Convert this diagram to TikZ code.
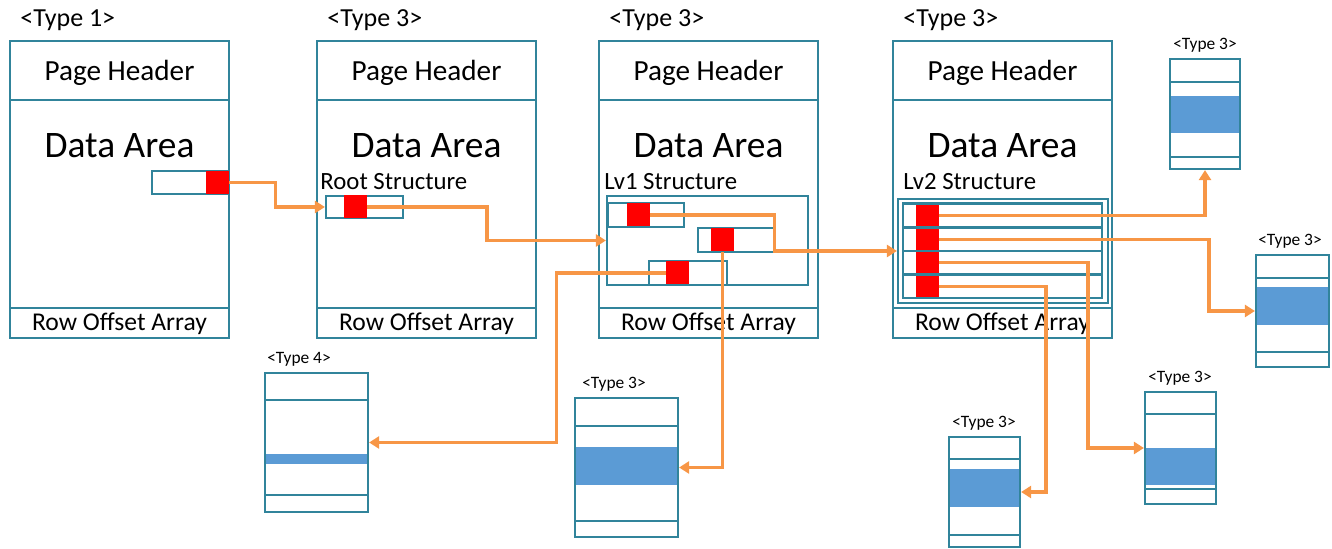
\documentclass[tikz,border=0pt]{standalone}
\usepackage{fontspec}
\setmainfont{Carlito}
\usetikzlibrary{arrows.meta,fit}
\definecolor{edge}{HTML}{31849B}
\definecolor{lnk}{HTML}{F79646}
\definecolor{band}{HTML}{5B9BD5}
\begin{document}
\begin{tikzpicture}[x=0.5pt,y=-0.5pt,
    pg/.style={draw=edge,line width=1.1pt},
    rec/.style={draw=edge,line width=1.1pt,fill=white,inner sep=0pt},
    row/.style={draw=edge,line width=1.1pt,inner sep=0pt},
    cell/.style={fill=red,minimum width=11.5pt,minimum height=11.5pt,inner sep=0pt},
    link/.style={draw=lnk,line width=1.6pt,-{Triangle[length=5pt,width=6pt]}},
    tylbl/.style={font=\fontsize{13}{15}\selectfont},
    hdr/.style={font=\fontsize{14.6}{17}\selectfont},
    big/.style={font=\fontsize{18.7}{22}\selectfont},
    foot/.style={font=\fontsize{12.8}{15}\selectfont},
    strc/.style={font=\fontsize{12.4}{14}\selectfont,anchor=west,inner sep=0pt},
    smlbl/.style={font=\fontsize{8.7}{10}\selectfont}]
    \useasboundingbox (0,0) rectangle (1332,549);

    % big pages
    \foreach \x/\t [count=\i] in {10/1,317/3,599/3,893/3} {
        \draw[pg] (\x,41) rectangle ++(219,297);
        \draw[pg] (\x,100) -- ++(219,0);
        \draw[pg] (\x,308) -- ++(219,0);
        \node[tylbl,anchor=west,inner sep=0pt] (ty\i) at (\x+10,20) {<Type \t>};
        \node[hdr] (ph\i) at (\x+109.5,73) {Page Header};
        \node[big] (da\i) at (\x+109.5,146) {Data Area};
        \node[foot] (ro\i) at (\x+109.5,324) {Row Offset Array};
    }

    % small pages
    \foreach \n/\xa/\ya/\xb/\yb/\hd/\ba/\bb/\ft/\ty/\lx in {
        sA/1170/59/1240/169/82/96/133/157/3/1205,
        sB/1256/255/1329/367/278/287/325/352/3/1290,
        sC/265/373/368/512/400/454/464/495/4/299,
        sD/575/398/678/537/426/447/485/521/3/614,
        sE/949/437/1020/547/459/469/507/535/3/984,
        sF/1145/392/1216/504/414/448/485/489/3/1180} {
        \fill[band] (\xa,\ba) rectangle (\xb,\bb);
        \node[row,fit={(\xa,\ya) (\xb,\yb)}] (\n) {};
        \draw[pg] (\xa,\hd) -- (\xb,\hd);
        \draw[pg] (\xa,\ft) -- (\xb,\ft);
        \node[smlbl] (\n l) at (\lx,\ya-14) {<Type \ty>};
    }

    % page 1
    \node[rec,fit={(152,171) (229,194)}] (ref) {};
    \node[cell] (refc) at (217.5,182.5) {};

    % page 2
    \node[strc] (rs) at (320,182) {Root Structure};
    \node[rec,fit={(326,196) (403,218)}] (root) {};
    \node[cell] (rootc) at (355,207) {};

    % page 3
    \node[strc] (l1s) at (604,182) {Lv1 Structure};
    \node[row,fit={(607,196) (808,285)}] (lv1) {};
    \node[rec,fit={(608,203) (684,227)}] (lv1a) {};
    \node[rec,fit={(698,228) (774,252)}] (lv1b) {};
    \node[rec,fit={(649,261) (727,285)}] (lv1c) {};
    \node[cell] (lv1ca) at (638.5,215) {};
    \node[cell] (lv1cb) at (722.5,240) {};
    \node[cell] (lv1cc) at (677.5,273) {};

    % page 4
    \node[strc] (l2s) at (903,182) {Lv2 Structure};
    \node[row,fit={(898,199) (1108,303)}] (lv2) {};
    \node[row,fit={(903,203) (1102,298)}] (lv2in) {};
    \foreach \r/\y in {a/204,b/227.5,c/251,d/274.5} {
        \node[cell] (lv2c\r) at (927,\y+11.75) {};
        \node[row,fit={(903,\y) (1102,\y+23.5)}] (lv2\r) {};
    }

    % pointers
    \draw[link] (refc.east) -- ++(46,0) |- (root.west);
    \draw[link] (rootc.east) -- ++(120,0) |- (lv1.west);
    \draw[link] (lv1ca.east) -- ++(124,0) |- (lv2.west);
    \draw[link] (lv1cb.south) |- (sD.east);
    \draw[link] (lv1cc.west) -- ++(-109,0) |- (sC.east);
    \draw[link] (lv2ca.east) -| (sA.south);
    \draw[link] (lv2cb.east) -- ++(270,0) |- (sB.west);
    \draw[link] (lv2cc.east) -- ++(149,0) |- (sF.west);
    \draw[link] (lv2cd.east) -- ++(107,0) |- (sE.east);
\end{tikzpicture}
\end{document}
